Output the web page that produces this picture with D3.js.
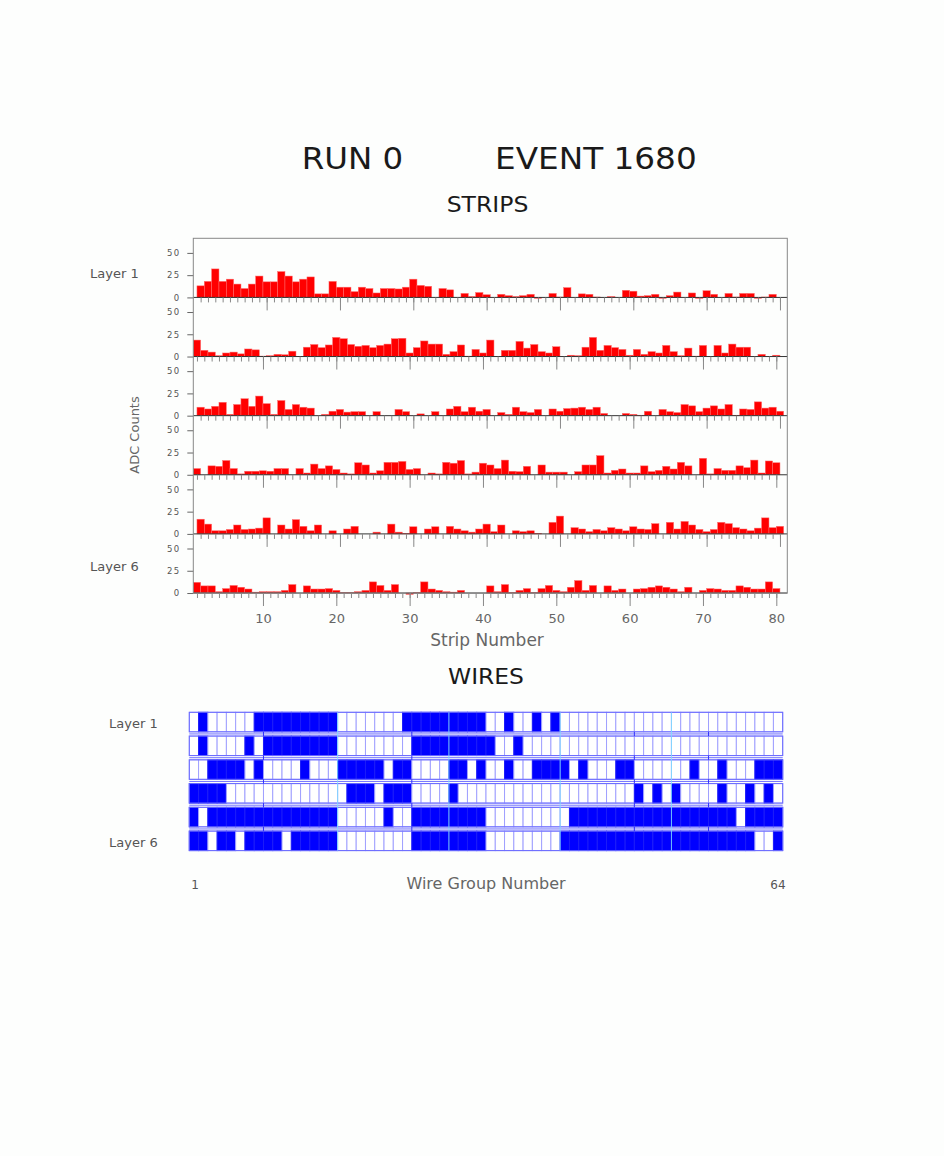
<!DOCTYPE html>
<html><head><meta charset="utf-8">
<script src="https://cdn.jsdelivr.net/npm/d3@7/dist/d3.min.js"></script>
<style>
html,body{margin:0;padding:0;background:#fdfefd;}
text{font-family:"DejaVu Sans",sans-serif;}
</style></head>
<body>
<svg id="c" width="944" height="1156"></svg>
<script>
// ---------- DATA ----------
const titleRun = "RUN 0";
const titleEvent = "EVENT 1680";
const stripNumbers = d3.range(1, 81);
const stripTickLabels = [10, 20, 30, 40, 50, 60, 70, 80];
const adcTicks = [0, 25, 50];
const layerNames = ["Layer 1", "Layer 2", "Layer 3", "Layer 4", "Layer 5", "Layer 6"];

const stripLayer1 = [13,18,32,18,20.5,15,10,15,24,17.5, 17.5,29,24,17.5,20.5,23,4,4,18,11.5,
  11.5,6.5,11.5,10,5,10,10,9.5,11.5,20.5, 13.5,12.5,0,10,8.5,0,4.5,1,5.5,3,
  0,3.5,2,1,2,3.5,-1,0,4.5,0.5, 11,0,4,3.5,0.5,0,1,0,8,7,
  1.5,2,3.5,-1,2,6,0,5,-1,7.5, 3.5,0,4.5,0.5,4.5,4.5,-1,0.5,3.5,0];
const stripLayer2 = [18.5,7,5,1,4,5,3,8.5,7.5,0.5, 1,2.5,2,6,0,10.5,13.5,10,13,21.5,
  20,13.5,11.5,12.5,10,12.5,14,20,20.5,4, 10,17.5,14,14,2.5,5.5,13,0.5,8,4,
  18.5,0,7,7,17,9.5,13.5,5.5,4,11, 0,1.5,1,10.5,21.5,7,12.5,10,8,1.5,
  8,2.5,5.5,4,12.5,5.5,1,9.5,0.5,12.5, 0,12.5,4,14,10.5,10.5,0,2.5,0,1.5];
const stripLayer3 = [9.5,7.5,10.5,15,1.5,12.5,19,10.5,22,13.5, 1.5,17,7,12.5,9.5,8.5,0,1.5,5,7,
  4,4.5,4.5,0,4.5,0,0,7,4.5,0, 2,0,4.5,0,7.5,10.5,4.5,9.5,5,7,
  0,3.5,1.5,9.5,4.5,3.5,7,0,7.5,5, 8,8.5,9.5,7,9.5,2.5,0,0,2.5,1.5,
  0.5,5,0,7,4.5,3.5,12.5,11,4.5,8.5, 11,7.5,12.5,0.5,7.5,7,15.5,8.5,9.5,5];
const stripLayer4 = [7,0,10,9.5,16,7,1,4,4,4.5, 4,7,7,0,7,2,12,7,10,6,
  2,1,13.5,11,2,4.5,14,14,15,6, 7,0,2,1,14,13,16,1,3,13,
  11,7,16.5,4,3.5,9.5,0,11,3,3, 3,0,3.5,11,11,21.5,2,5,6.5,2,
  2,10,3.5,5,9.5,6.5,14,10,0,18.5, 1,7,5,5,10,8,16.5,2,15.5,13.5];
const stripLayer5 = [16.5,11,3.5,3.5,5,10,5,5.5,6.5,18, 0,10,5.5,16,8.5,3.5,10,0,3.5,0,
  5.5,8.5,0,0,2,0,11,2,0.5,8, 0,5.5,8,0,8.5,5.5,3.5,2,5.5,11,
  2.5,10,0,3.5,2.5,3.5,0.5,0,13,20, 0,7,5.5,2.5,5,3.5,7,5.5,3.5,8,
  5.5,5,11.5,0,13,5.5,14,10,5,2.5, 5,13,11.5,7,5.5,3.5,6.5,18,7,8.5];
const stripLayer6 = [12,8,8,1.5,5,8.5,6.5,4.5,1,1.5, 1.5,1.5,3,9.5,0,8,4.5,4.5,5,3,
  0.5,0.5,1.5,3,12.5,8.5,3,9.5,0,-1.5, 0.5,12.5,4.5,3,1.5,1,3,0,0,0,
  8,1.5,9.5,0.5,3,5,0.5,5,8.5,3, 1.5,6.5,14,3,8.5,0,8,3,4.5,0,
  4.5,5,6.5,8,6.5,4.5,1.5,6.5,0,3, 5,4.5,3,3,8,6.5,4.5,4.5,12.5,5];
const stripLayers = [stripLayer1, stripLayer2, stripLayer3, stripLayer4, stripLayer5, stripLayer6];

// wire group hits (1 = hit), 64 groups per layer
const wireLayer1 = [0,1,0,0,0,0,0,1, 1,1,1,1,1,1,1,1, 0,0,0,0,0,0,0,1, 1,1,1,1,1,1,1,1,
  0,0,1,0,0,1,0,1, 0,0,0,0,0,0,0,0, 0,0,0,0,0,0,0,0, 0,0,0,0,0,0,0,0];
const wireLayer2 = [0,1,0,0,0,0,1,0, 1,1,1,1,1,1,1,1, 0,0,0,0,0,0,0,0, 1,1,1,1,1,1,1,1,
  1,0,0,1,0,0,0,0, 0,0,0,0,0,0,0,0, 0,0,0,0,0,0,0,0, 0,0,0,0,0,0,0,0];
const wireLayer3 = [0,0,1,1,1,1,0,1, 0,0,0,0,1,0,0,0, 1,1,1,1,1,0,1,1, 0,0,0,0,1,1,0,1,
  0,0,1,0,0,1,1,1, 1,0,1,0,0,0,1,1, 0,0,0,0,0,0,1,0, 0,1,0,0,0,1,1,1];
const wireLayer4 = [1,1,1,1,0,0,0,0, 0,0,0,0,0,0,0,0, 0,1,1,1,0,1,1,1, 0,0,0,0,1,0,0,0,
  0,0,0,0,0,0,0,0, 0,0,0,0,0,0,0,0, 1,0,1,0,1,0,0,0, 0,1,0,0,1,0,1,0];
const wireLayer5 = [1,0,1,1,1,1,1,1, 1,1,1,1,1,1,1,1, 0,0,0,0,0,1,0,0, 1,1,1,1,1,1,1,1,
  0,0,0,0,0,0,0,0, 0,1,1,1,1,1,1,1, 1,1,1,1,1,1,1,1, 1,1,1,0,1,1,1,1];
const wireLayer6 = [1,1,0,1,1,0,1,1, 1,1,0,1,1,1,1,1, 0,0,0,0,0,0,0,0, 1,1,1,1,1,1,1,1,
  0,0,0,0,0,0,0,0, 1,1,1,1,1,1,1,1, 1,1,1,1,1,1,1,1, 1,1,1,1,1,0,0,1];
const wireLayers = [wireLayer1, wireLayer2, wireLayer3, wireLayer4, wireLayer5, wireLayer6];
const wireBoundsMajor = [16, 28, 40, 52];
const wireBoundsMinor = [8, 24, 48, 56];
const wireEndLabels = ["1", "64"];

// ---------- DRAW ----------
const svg = d3.select("#c");
svg.append("rect").attr("width",944).attr("height",1156).attr("fill","#fdfefd");

svg.append("text").attr("x",301.7).attr("y",169).attr("font-size",30)
  .attr("textLength",101.6).attr("lengthAdjust","spacingAndGlyphs").attr("fill","#1a1a1a").text(titleRun);
svg.append("text").attr("x",495).attr("y",169).attr("font-size",30)
  .attr("textLength",201.7).attr("lengthAdjust","spacingAndGlyphs").attr("fill","#1a1a1a").text(titleEvent);
svg.append("text").attr("x",487.5).attr("y",212).attr("font-size",22).attr("text-anchor","middle")
  .attr("textLength",81.7).attr("lengthAdjust","spacingAndGlyphs").attr("fill","#1a1a1a").text("STRIPS");

// strips
const L = 193.3, R = 787.3, T = 238.3, PH = 59.12;
const xOdd = d3.scaleLinear().domain([0, 81]).range([L, R]);
const xEven = d3.scaleLinear().domain([0.5, 81.5]).range([L, R]);
const gray = "#666";

stripLayers.forEach((vals, p) => {
  const top = T + p*PH, bot = top + PH;
  const y = d3.scaleLinear().domain([0, 66.4]).range([bot, top]);
  const x = (p % 2 === 0) ? xOdd : xEven;
  const g = svg.append("g");
  g.selectAll("rect.bar").data(vals).join("rect").attr("class","bar")
    .attr("x", (d,i) => x(stripNumbers[i] - 0.5))
    .attr("width", x(1) - x(0))
    .attr("y", d => Math.min(y(d), y(0)))
    .attr("height", d => Math.abs(y(0) - y(d)))
    .attr("fill", "#ff0000").attr("stroke", "#ff6a6a").attr("stroke-width", 0.5);
  // y axis
  const ya = g.append("g").attr("transform", `translate(${L},0)`)
    .call(d3.axisLeft(y).tickValues(adcTicks).tickSize(6).tickPadding(7));
  ya.select(".domain").remove();
  ya.selectAll("line").attr("stroke", gray);
  ya.selectAll("text").attr("font-size", 8.5).attr("fill", "#555").attr("letter-spacing", 1.2)
    .attr("font-family", "DejaVu Sans");
  // baseline
  g.append("line").attr("x1", L).attr("x2", R).attr("y1", y(0)).attr("y2", y(0))
    .attr("stroke", "#333").attr("stroke-width", 1);
  // hanging ticks
  const minor = g.append("g").attr("transform", `translate(0,${y(0)})`)
    .call(d3.axisBottom(x).tickValues(stripNumbers).tickSize(5).tickFormat(""));
  minor.select(".domain").remove();
  minor.selectAll("line").attr("stroke", "#888");
  const major = g.append("g").attr("transform", `translate(0,${y(0)})`)
    .call(d3.axisBottom(x).tickValues(stripTickLabels).tickSize(13).tickPadding(8)
      .tickFormat(p === 5 ? d3.format("d") : ""));
  major.select(".domain").remove();
  major.selectAll("line").attr("stroke", "#888");
  major.selectAll("text").attr("font-size", 13).attr("fill", "#666").attr("font-family","DejaVu Sans");
});
// frame
svg.append("rect").attr("x", L).attr("y", T).attr("width", R-L).attr("height", 6*PH)
  .attr("fill", "none").attr("stroke", "#888").attr("stroke-width", 1);

svg.append("text").attr("x", 90).attr("y", 278).attr("font-size", 13).attr("fill", "#555").text(layerNames[0]);
svg.append("text").attr("x", 90).attr("y", 571).attr("font-size", 13).attr("fill", "#555").text(layerNames[5]);
svg.append("text").attr("transform", "translate(139,435) rotate(-90)").attr("text-anchor","middle")
  .attr("font-size", 13).attr("fill", "#666").text("ADC Counts");
svg.append("text").attr("x", 487).attr("y", 646).attr("text-anchor","middle")
  .attr("font-size", 17).attr("fill", "#666").text("Strip Number");

// wires
svg.append("text").attr("x",486).attr("y",684).attr("font-size",22).attr("text-anchor","middle")
  .attr("textLength",76).attr("lengthAdjust","spacingAndGlyphs").attr("fill","#1a1a1a").text("WIRES");
const WL = 189.3, WR = 782.7;
const xw = d3.scaleLinear().domain([0, 64]).range([WL, WR]);
const yw = d3.scaleBand().domain(d3.range(6)).range([712.3, 850.6]).paddingInner(0.179);
const pitch = yw.step(), gap = pitch - yw.bandwidth();

wireLayers.forEach((hits, r) => {
  const g = svg.append("g");
  g.selectAll("rect").data(hits).join("rect")
    .attr("x", (d,i) => xw(i)).attr("width", xw(1) - xw(0))
    .attr("y", yw(r)).attr("height", yw.bandwidth())
    .attr("fill", d => d ? "#0000ff" : "#ffffff")
    .attr("stroke", d => d ? "#1c1cf8" : "#a0a0ff").attr("stroke-width", 1);
  g.append("rect").attr("x", WL).attr("y", yw(r)).attr("width", WR-WL).attr("height", yw.bandwidth())
    .attr("fill","none").attr("stroke","#6a6aff").attr("stroke-width",1);
});
// gap lines
d3.range(5).forEach(r => {
  const yy = yw(r) + yw.bandwidth() + gap/2;
  svg.append("line").attr("x1", WL).attr("x2", WR).attr("y1", yy).attr("y2", yy)
    .attr("stroke", "#7070ff").attr("stroke-width", 1);
  wireBoundsMinor.forEach(b => svg.append("line").attr("x1", xw(b)).attr("x2", xw(b))
    .attr("y1", yw(r)+yw.bandwidth()).attr("y2", yw(r+1)).attr("stroke", "#3030ff").attr("stroke-width", 1));
});
wireBoundsMajor.forEach(b => svg.append("line").attr("x1", xw(b)).attr("x2", xw(b))
  .attr("y1", yw(0)).attr("y2", yw(5)+yw.bandwidth()).attr("stroke", "#80e0ff").attr("stroke-width", 1)
  .attr("opacity", 0.85));

svg.append("text").attr("x", 109).attr("y", 728).attr("font-size", 13).attr("fill", "#555").text(layerNames[0]);
svg.append("text").attr("x", 109).attr("y", 847).attr("font-size", 13).attr("fill", "#555").text(layerNames[5]);
svg.append("text").attr("x", 195).attr("y", 889).attr("text-anchor","middle").attr("font-size", 12).attr("fill", "#555").text(wireEndLabels[0]);
svg.append("text").attr("x", 778).attr("y", 889).attr("text-anchor","middle").attr("font-size", 12).attr("fill", "#555").text(wireEndLabels[1]);
svg.append("text").attr("x", 486).attr("y", 889).attr("text-anchor","middle")
  .attr("font-size", 16).attr("fill", "#666").text("Wire Group Number");
</script>
</body></html>
